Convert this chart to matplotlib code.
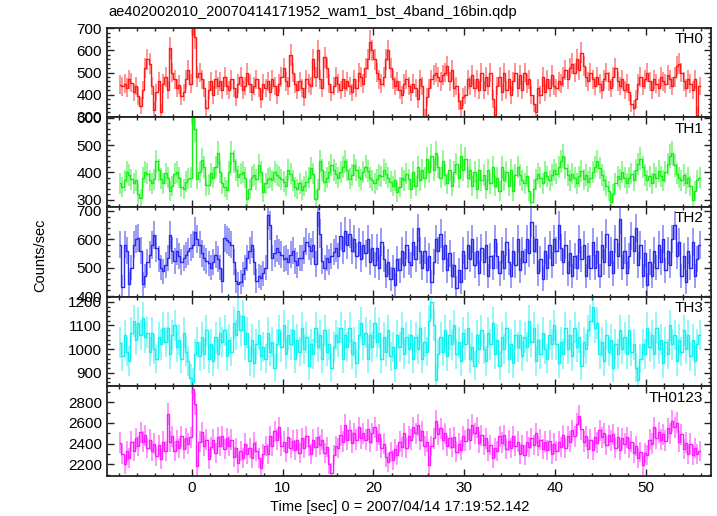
import numpy as np
import matplotlib
matplotlib.use("Agg")
import matplotlib.pyplot as plt
from matplotlib.ticker import MultipleLocator

plt.rcParams['font.family'] = ['Liberation Sans', 'DejaVu Sans']

TITLE = "ae402002010_20070414171952_wam1_bst_4band_16bin.qdp"
XLABEL = "Time [sec] 0 = 2007/04/14 17:19:52.142"
YLABEL = "Counts/sec"
BAND_NAMES = ["TH0", "TH1", "TH2", "TH3", "TH0123"]
BIN = 0.25          # seconds per bin
T_START = -8.0      # start of first bin

th0 = [
    445, 438, 450, 432, 470, 455, 410, 440, 395, 350, 420, 520, 560, 540, 440, 330,
    410, 460, 320, 450, 480, 420, 610, 500, 470, 430, 445, 395, 410, 470, 510, 450,
    720, 660, 480, 500, 470, 430, 340, 420, 460, 400, 470, 440, 460, 420, 480, 440,
    420, 470, 430, 390, 450, 480, 420, 440, 500, 450, 410, 440, 470, 430, 380, 450,
    430, 460, 410, 470, 440, 400, 450, 480, 520, 460, 440, 580, 500, 450, 420, 460,
    430, 390, 470, 450, 440, 560, 480, 600, 470, 430, 570, 520, 450, 410, 440, 480,
    450, 420, 470, 430, 460, 440, 410, 470, 430, 500, 480, 450, 520, 560, 640, 600,
    560, 500, 470, 450, 480, 560, 600, 520, 470, 440, 460, 420, 400, 450, 470, 440,
    410, 450, 430, 380, 470, 440, 300, 390, 430, 470, 490, 500, 480, 460, 490, 500,
    530, 460, 510, 430, 440, 370, 340, 390, 400, 470, 440, 490, 430, 470, 420, 500,
    420, 480, 440, 500, 380, 310, 440, 480, 410, 500, 420, 470, 400, 460, 500, 430,
    490, 420, 500, 450, 470, 400, 360, 320, 430, 400, 480, 410, 470, 430, 490, 440,
    430, 460, 450, 480, 510, 470, 520, 540, 500, 560, 510, 590, 530, 480, 460, 500,
    470, 440, 480, 450, 420, 470, 500, 460, 430, 480, 520, 460, 440, 470, 420, 450,
    410, 360, 340, 380, 450, 480, 440, 470, 500, 460, 420, 470, 450, 430, 480, 460,
    450, 490, 470, 440, 480, 530, 540, 500, 460, 430, 470, 450, 420, 470, 310, 440,
]

th1 = [
    360, 345, 370, 400, 390, 375, 360, 370, 320, 305, 380, 400, 395, 370, 360, 375,
    440, 410, 377, 360, 396, 380, 330, 350, 395, 400, 380, 345, 340, 365, 377, 380,
    600, 560, 377, 400, 446, 420, 352, 355, 396, 380, 420, 471, 400, 359, 345, 334,
    400, 471, 440, 410, 384, 395, 402, 380, 302, 340, 384, 390, 375, 427, 400, 327,
    360, 377, 380, 370, 402, 390, 384, 375, 365, 350, 409, 395, 370, 345, 340, 360,
    334, 350, 365, 380, 415, 395, 302, 340, 440, 410, 365, 380, 400, 427, 410, 395,
    380, 400, 420, 440, 410, 377, 390, 427, 410, 384, 375, 400, 421, 405, 380, 370,
    359, 375, 390, 385, 409, 395, 380, 365, 350, 370, 327, 345, 380, 370, 395, 375,
    340, 400, 350, 420, 370, 410, 380, 450, 400, 460, 410, 470, 420, 380, 440, 390,
    360, 410, 350, 400, 430, 380, 460, 410, 450, 380, 410, 350, 400, 340, 410, 370,
    390, 340, 410, 360, 420, 350, 380, 330, 420, 370, 400, 350, 410, 330, 390, 420,
    390, 370, 360, 385, 330, 290, 340, 375, 395, 380, 360, 400, 385, 370, 390, 410,
    395, 420, 440, 460, 415, 390, 370, 395, 380, 360, 385, 405, 375, 390, 365, 380,
    400, 420, 440, 415, 390, 370, 350, 330, 290, 320, 360, 385, 375, 400, 380, 360,
    380, 395, 370, 410, 430, 450, 420, 390, 370, 385, 360, 395, 380, 405, 385, 370,
    400, 430, 460, 470, 425, 395, 380, 370, 390, 360, 380, 350, 300, 330, 370, 380,
]

th2 = [
    581, 431, 581, 560, 442, 500, 581, 600, 604, 560, 442, 470, 520, 546, 580, 616,
    569, 530, 500, 488, 510, 535, 616, 560, 523, 558, 540, 520, 535, 545, 558, 570,
    581, 627, 600, 581, 550, 535, 523, 515, 500, 520, 546, 530, 500, 454, 604, 598,
    590, 581, 520, 454, 442, 450, 477, 500, 535, 560, 581, 520, 454, 470, 465, 480,
    500, 685, 650, 535, 550, 569, 555, 546, 530, 535, 520, 546, 560, 523, 510, 535,
    535, 560, 592, 575, 558, 581, 512, 697, 620, 523, 500, 535, 520, 540, 555, 569,
    540, 610, 560, 630, 580, 620, 560, 600, 540, 590, 530, 580, 550, 600, 520, 570,
    510, 570, 500, 590, 530, 470, 520, 460, 500, 440, 530, 490, 560, 510, 580, 520,
    510, 590, 530, 640, 560, 500, 560, 490, 540, 450, 520, 600, 560, 620, 530, 580,
    490, 550, 470, 510, 430, 490, 450, 560, 500, 580, 530, 600, 510, 560, 480, 570,
    520, 580, 470, 540, 500, 600, 540, 480, 560, 500, 590, 520, 470, 560, 510, 600,
    490, 560, 520, 600, 550, 660, 560, 600, 480, 530, 460, 560, 500, 580, 510, 600,
    560, 650, 570, 520, 580, 480, 550, 470, 540, 500, 600, 530, 580, 470, 540, 500,
    590, 500, 560, 470, 580, 520, 620, 510, 560, 480, 600, 540, 670, 500, 560, 480,
    540, 610, 560, 640, 510, 580, 470, 550, 440, 520, 470, 560, 500, 580, 520, 600,
    490, 560, 510, 600, 650, 540, 590, 470, 540, 450, 560, 500, 590, 470, 530, 580,
]

th3 = [
    1028, 970, 1060, 990, 950, 1070, 1120, 1040, 1110, 1060, 1130, 1050, 1070, 990, 1070, 1000,
    960, 1050, 1020, 1090, 1030, 1090, 980, 1060, 1100, 1010, 1040, 960, 1070, 990, 950, 880,
    860, 980, 1030, 970, 1050, 980, 1080, 960, 1020, 950, 1050, 980, 1070, 1030, 1080, 970,
    1040, 990, 1110, 1060, 1160, 1080, 1140, 1020, 1070, 950, 1040, 940, 1020, 1060, 970, 1010,
    960, 1070, 990, 1030, 920, 1020, 1080, 1010, 1100, 980, 1060, 1020, 1080, 960, 1040, 990,
    1090, 1000, 1050, 930, 1020, 980, 1090, 1010, 1060, 960, 1080, 990, 1020, 920, 1010, 1060,
    1030, 1090, 960, 1060, 1010, 1090, 980, 1030, 940, 1060, 1110, 1020, 1070, 960, 1060, 1010,
    1110, 1030, 1070, 960, 1050, 990, 1080, 970, 1010, 920, 1060, 1010, 1090, 980, 1050, 1000,
    1060, 960, 1050, 1000, 1090, 960, 1030, 990, 1120, 1200, 1100, 870, 980, 1050, 990, 1080,
    970, 1060, 1020, 1100, 980, 1030, 950, 1070, 1020, 1090, 960, 1010, 930, 1060, 1000, 1080,
    1000, 950, 1070, 1020, 1110, 980, 1040, 930, 1050, 1000, 1090, 960, 1020, 940, 1060, 1010,
    1060, 970, 1050, 1010, 1120, 1030, 1090, 950, 1040, 980, 1070, 1000, 960, 1060, 1020, 1100,
    1020, 940, 1030, 980, 1090, 1000, 1060, 970, 1090, 1010, 1050, 930, 1030, 1000, 1080, 1120,
    1180, 1090, 1110, 980, 1030, 950, 1060, 990, 1040, 920, 1020, 980, 1080, 1000, 1050, 980,
    1080, 990, 1020, 920, 870, 960, 1020, 980, 1090, 1010, 1060, 980, 1090, 1000, 1040, 940,
    1030, 980, 1100, 1020, 1060, 950, 1040, 990, 1080, 1000, 1060, 970, 1040, 950, 1020, 1060,
]

th0123 = [
    2410, 2300, 2200, 2330, 2260, 2420, 2330, 2450, 2380, 2510, 2420, 2480, 2360, 2440, 2330, 2400,
    2280, 2390, 2250, 2420, 2330, 2685, 2420, 2470, 2330, 2430, 2360, 2470, 2350, 2450, 2400, 2460,
    2930, 2780, 2180, 2420, 2510, 2380, 2440, 2250, 2370, 2440, 2310, 2460, 2380, 2470, 2350, 2450,
    2380, 2440, 2270, 2360, 2210, 2330, 2260, 2400, 2300, 2360, 2260, 2410, 2330, 2260, 2170, 2300,
    2380, 2300, 2470, 2380, 2520, 2440, 2560, 2380, 2420, 2320, 2460, 2360, 2430, 2340, 2440, 2310,
    2450, 2360, 2470, 2380, 2300, 2440, 2370, 2460, 2390, 2440, 2310, 2370, 2200, 2120, 2290, 2380,
    2360, 2480, 2420, 2580, 2440, 2530, 2410, 2500, 2440, 2560, 2450, 2500, 2440, 2540, 2420, 2500,
    2560, 2430, 2490, 2360, 2400, 2270, 2220, 2320, 2240, 2350, 2290, 2420, 2370, 2500, 2360, 2470,
    2440, 2560, 2500, 2580, 2440, 2520, 2380, 2420, 2190, 2380, 2450, 2620, 2490, 2550, 2440, 2500,
    2380, 2450, 2370, 2460, 2320, 2400, 2340, 2470, 2430, 2540, 2440, 2580, 2500, 2560, 2410, 2480,
    2390, 2450, 2330, 2390, 2260, 2360, 2330, 2470, 2410, 2480, 2350, 2430, 2360, 2470, 2380, 2420,
    2300, 2390, 2290, 2420, 2370, 2450, 2390, 2500, 2380, 2440, 2350, 2420, 2340, 2430, 2300, 2400,
    2330, 2420, 2370, 2480, 2360, 2470, 2420, 2530, 2470, 2590, 2670, 2540, 2420, 2470, 2350, 2440,
    2340, 2460, 2410, 2530, 2460, 2500, 2390, 2480, 2430, 2490, 2360, 2460, 2340, 2450, 2400, 2460,
    2360, 2420, 2310, 2380, 2260, 2320, 2190, 2310, 2290, 2440, 2400, 2560, 2450, 2510, 2440, 2490,
    2430, 2550, 2500, 2620, 2560, 2600, 2420, 2490, 2350, 2410, 2300, 2400, 2290, 2360, 2300, 2330,
]

series = [th0, th1, th2, th3, th0123]
colors = ["#ff1a1a", "#1aee1a", "#2a2aee", "#14f0f0", "#ff1aff"]
ylims = [(298, 704), (273, 602), (398, 714), (843, 1222), (2088, 2953)]
ymaj = [100, 100, 100, 100, 200]
ymin = [20, 20, 20, 20, 100]

fig = plt.figure(figsize=(7.17, 5.16), dpi=100)
axes = fig.subplots(5, 1, sharex=True, gridspec_kw=dict(hspace=0))
fig.subplots_adjust(left=0.1488, right=0.9912, top=0.9467, bottom=0.0775)

n = len(th0)
t = T_START + BIN / 2 + BIN * np.arange(n)

for ax, vals, col, yl, mj, mn, name in zip(axes, series, colors, ylims, ymaj, ymin, BAND_NAMES):
    v = np.asarray(vals, dtype=float)
    err = np.sqrt(v / BIN)
    ax.vlines(t, v - err, v + err, colors=col, alpha=0.5, lw=1.3)
    ax.step(t, v, where='mid', color=col, lw=1.0)
    ax.set_ylim(*yl)
    ax.set_xlim(-9.35, 57.1)
    ax.yaxis.set_major_locator(MultipleLocator(mj))
    ax.yaxis.set_minor_locator(MultipleLocator(mn))
    ax.xaxis.set_major_locator(MultipleLocator(10))
    ax.xaxis.set_minor_locator(MultipleLocator(2))
    ax.tick_params(which='both', direction='in', top=True, right=True,
                   labelsize=11, color='#222222', width=1.0)
    ax.tick_params(which='major', length=5)
    ax.tick_params(which='minor', length=2.5)
    for s in ax.spines.values():
        s.set_linewidth(1.3)
        s.set_color('#222222')
    ax.text(0.988, 0.95, name, transform=ax.transAxes, ha='right', va='top',
            fontsize=11)

fig.text(108 / 717, 1 - 12 / 516, TITLE, ha='left', va='center', fontsize=10.5)
fig.text(400 / 717, 1 - 507 / 516, XLABEL, ha='center', va='center', fontsize=10.5)
fig.text(40 / 717, 1 - 255 / 516, YLABEL, ha='center', va='center',
         rotation=90, fontsize=10.5)

fig.savefig("out.png", dpi=100)
